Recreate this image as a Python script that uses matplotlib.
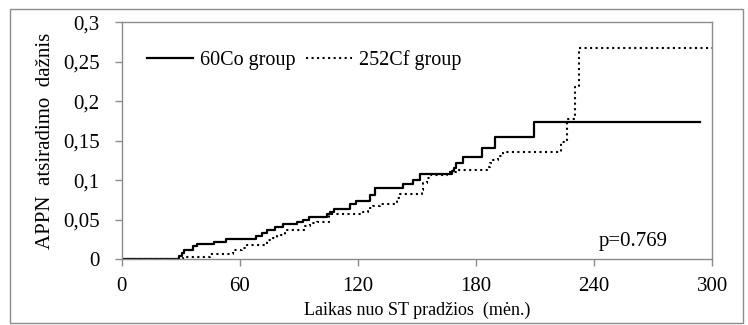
import matplotlib
matplotlib.use("Agg")
import matplotlib.pyplot as plt
from matplotlib.patches import Rectangle

plt.rcParams['font.family'] = ['Liberation Serif', 'DejaVu Serif']

# cumulative incidence, 60Co group (step times in months)
co_t = [0, 29, 30.5, 31.5, 36, 38, 47, 53, 68, 71, 74, 78, 82, 89, 92, 95,
        104, 106, 108, 116, 119, 126, 128.5, 143, 148, 151.5, 168, 169, 170,
        173.5, 183, 189.5, 209.5, 294]
co_v = [0, 0.004, 0.008, 0.012, 0.016, 0.019, 0.022, 0.025, 0.029, 0.033,
        0.037, 0.041, 0.044, 0.047, 0.050, 0.053, 0.057, 0.060, 0.063, 0.070,
        0.074, 0.081, 0.090, 0.095, 0.100, 0.108, 0.111, 0.115, 0.121, 0.129,
        0.140, 0.154, 0.174, 0.174]

# cumulative incidence, 252Cf group
cf_t = [0, 31, 44.7, 56.4, 61, 63.5, 73.7, 76, 79, 83, 84, 93, 95.5, 99,
        105.5, 122.5, 125, 127.6, 131, 140, 141.3, 152.5, 153, 155, 156.6,
        165, 170, 185.4, 187, 188.6, 191, 193.7, 223, 226, 230.3, 232.4, 300]
cf_v = [0, 0.003, 0.006, 0.012, 0.014, 0.018, 0.024, 0.027, 0.030, 0.033,
        0.037, 0.042, 0.045, 0.047, 0.057, 0.060, 0.064, 0.067, 0.070, 0.077,
        0.082, 0.087, 0.096, 0.102, 0.106, 0.110, 0.113, 0.117, 0.121, 0.125,
        0.130, 0.136, 0.148, 0.177, 0.218, 0.267, 0.267]

x_ticks = [0, 60, 120, 180, 240, 300]
y_ticks = [0, 0.05, 0.1, 0.15, 0.2, 0.25, 0.3]
y_labels = ['0', '0,05', '0,1', '0,15', '0,2', '0,25', '0,3']

grey = '#8c8c8c'

fig = plt.figure(figsize=(7.48, 3.25), dpi=100)
ax = fig.add_axes([0.163, 0.203, 0.789, 0.729])

ax.step(co_t, co_v, where='post', color='black', lw=1.6, label='60Co group')
ax.step(cf_t, cf_v, where='post', color='black', lw=1.5, ls=':', label='252Cf group')

ax.set_xlim(0, 300)
ax.set_ylim(0, 0.3)
ax.set_xticks(x_ticks)
ax.set_yticks(y_ticks)
ax.set_yticklabels(y_labels)
ax.tick_params(labelsize=15, color=grey, length=5, width=1)
ax.tick_params(axis='y', pad=11)
ax.tick_params(axis='x', pad=8)
for s in ax.spines.values():
    s.set_color(grey)
    s.set_linewidth(1)

ax.set_xlabel('Laikas nuo ST pradžios  (mėn.)', fontsize=13, labelpad=4)
ax.set_ylabel('APPN  atsiradimo  dažnis', fontsize=15, labelpad=6)

ax.legend(loc='upper left', ncol=2, frameon=False, fontsize=14.5,
          handlelength=2.3, handletextpad=0.35, columnspacing=0.5,
          bbox_to_anchor=(0.012, 0.96))
ax.text(0.808, 0.055, 'p=0.769', transform=ax.transAxes, fontsize=15)

# outer chart border
fig.patches.append(Rectangle((0.013, 0.006), 0.98, 0.966, transform=fig.transFigure,
                             fill=False, edgecolor=grey, lw=1))

fig.savefig('out.png', dpi=100)
